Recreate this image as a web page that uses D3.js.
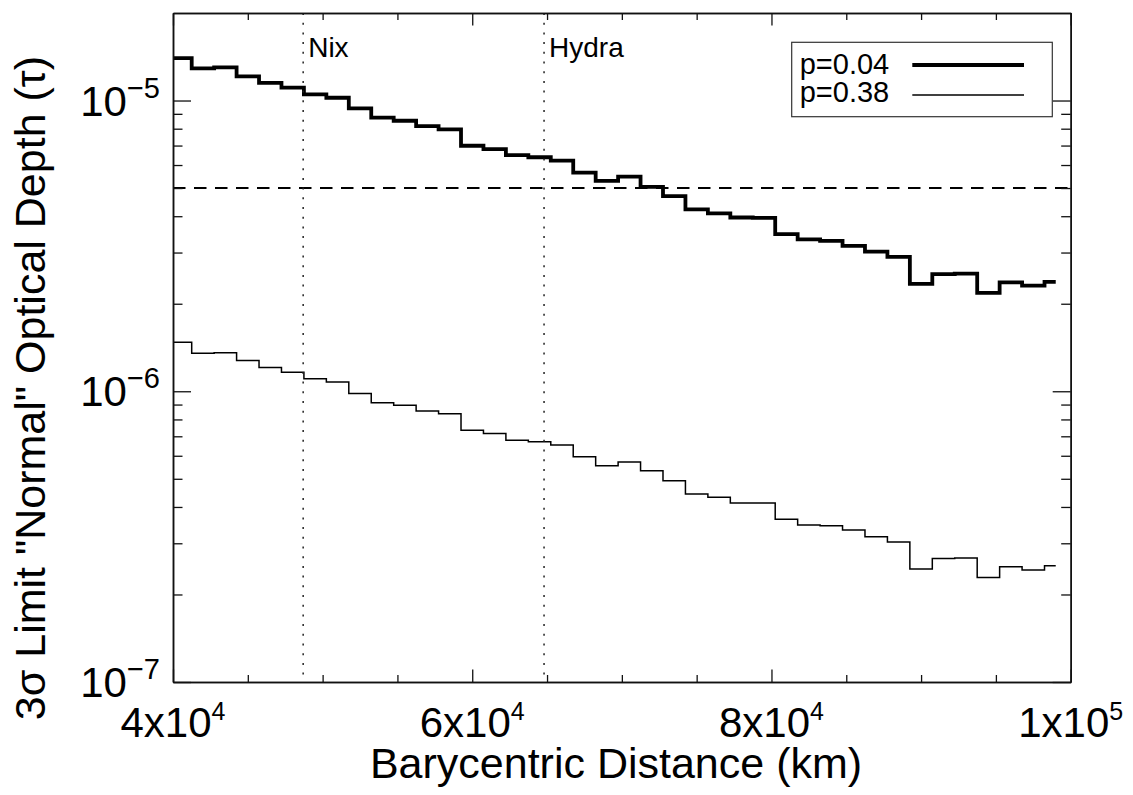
<!DOCTYPE html>
<html>
<head>
<meta charset="utf-8">
<script src="https://cdn.jsdelivr.net/npm/d3@7"></script>
<style>
  body { margin: 0; background: #fff; }
  svg { display: block; font-family: "Liberation Sans", Arial, Helvetica, sans-serif; }
</style>
</head>
<body>
<svg id="chart" width="1133" height="795"></svg>
<script>
// bin centres (km) and 3-sigma optical depth limits
const distance = [40500, 42000, 43500, 45000, 46500, 48000, 49500, 51000, 52500, 54000,
    55500, 57000, 58500, 60000, 61500, 63000, 64500, 66000, 67500, 69000,
    70500, 72000, 73500, 75000, 76500, 78000, 79500, 81000, 82500, 84000,
    85500, 87000, 88500, 90000, 91500, 93000, 94500, 96000, 97500, 99000];

const tauP004 = [1.40e-5, 1.29e-5, 1.30e-5, 1.21e-5, 1.15e-5, 1.107e-5, 1.05e-5, 1.022e-5, 9.40e-6, 8.73e-6,
    8.52e-6, 8.17e-6, 7.96e-6, 6.99e-6, 6.81e-6, 6.49e-6, 6.38e-6, 6.21e-6, 5.65e-6, 5.29e-6,
    5.47e-6, 5.05e-6, 4.69e-6, 4.22e-6, 4.09e-6, 3.96e-6, 3.95e-6, 3.47e-6, 3.33e-6, 3.29e-6,
    3.165e-6, 3.02e-6, 2.90e-6, 2.34e-6, 2.53e-6, 2.54e-6, 2.18e-6, 2.37e-6, 2.31e-6, 2.38e-6];

const tauP038 = [1.473e-6, 1.350e-6, 1.356e-6, 1.277e-6, 1.208e-6, 1.162e-6, 1.104e-6, 1.076e-6, 9.83e-7, 9.13e-7,
    8.96e-7, 8.55e-7, 8.37e-7, 7.35e-7, 7.16e-7, 6.79e-7, 6.70e-7, 6.53e-7, 5.95e-7, 5.54e-7,
    5.71e-7, 5.33e-7, 4.92e-7, 4.43e-7, 4.32e-7, 4.13e-7, 4.13e-7, 3.63e-7, 3.47e-7, 3.45e-7,
    3.33e-7, 3.16e-7, 3.03e-7, 2.445e-7, 2.66e-7, 2.67e-7, 2.29e-7, 2.49e-7, 2.43e-7, 2.51e-7];

const binWidth = 1500;
const threshold = 5e-6;
const moons = [{ name: 'Nix', a: 48700 }, { name: 'Hydra', a: 64800 }];

const xMajor = [40000, 60000, 80000, 100000];
const xMajorLabels = [['4x10', '4'], ['6x10', '4'], ['8x10', '4'], ['1x10', '5']];
const xMinor = [45000, 50000, 55000, 65000, 70000, 75000, 85000, 90000, 95000];
const yMajor = [1e-7, 1e-6, 1e-5];
const yMajorLabels = ['\u22127', '\u22126', '\u22125'];
const yMinor = [2e-7, 3e-7, 4e-7, 5e-7, 6e-7, 7e-7, 8e-7, 9e-7,
    2e-6, 3e-6, 4e-6, 5e-6, 6e-6, 7e-6, 8e-6, 9e-6];

const legendItems = [{ label: 'p=0.04', width: 4 }, { label: 'p=0.38', width: 1.5 }];

const margin = { top: 13, left: 173 },
    width = 897.7,
    height = 669;

const svg = d3.select('#chart');
const g = svg.append('g').attr('transform', `translate(${margin.left},${margin.top})`);

const x = d3.scaleLinear().domain([40000, 100000]).range([0, width]);
const y = d3.scaleLog().domain([1e-7, 2e-5]).range([height, 0]);

svg.append('defs').append('clipPath').attr('id', 'plot-clip')
    .append('rect').attr('width', width).attr('height', height);

// step curves (histogram mode)
const step = d3.line().x((d) => x(d[0])).y((d) => y(d[1])).curve(d3.curveStep);
function series(vals) {
    const pts = distance.map((d, i) => [d, vals[i]]);
    pts.unshift([distance[0] - binWidth / 2, vals[0]]);
    return pts;
}
const plotArea = g.append('g').attr('clip-path', 'url(#plot-clip)');
plotArea.append('path').datum(series(tauP004)).attr('d', step)
    .attr('fill', 'none').attr('stroke', '#000').attr('stroke-width', 3.8).attr('stroke-linejoin', 'miter');
plotArea.append('path').datum(series(tauP038)).attr('d', step)
    .attr('fill', 'none').attr('stroke', '#000').attr('stroke-width', 1.5);

// threshold line
g.append('line')
    .attr('x1', 0).attr('x2', width)
    .attr('y1', y(threshold)).attr('y2', y(threshold))
    .attr('stroke', '#000').attr('stroke-width', 2).attr('stroke-dasharray', '12.5,8.5');

// satellite orbits
moons.forEach((m) => {
    g.append('line')
        .attr('x1', x(m.a)).attr('x2', x(m.a))
        .attr('y1', 0).attr('y2', height)
        .attr('stroke', '#222').attr('stroke-width', 1.5).attr('stroke-dasharray', '2,7.7');
    g.append('text')
        .attr('x', x(m.a) + 5).attr('y', 44)
        .attr('font-size', 28).text(m.name);
});

// axes: all ticks point inward
function styleAxis(sel) {
    sel.selectAll('path.domain').attr('stroke', '#111').attr('stroke-width', 1.5);
    sel.selectAll('.tick line').attr('stroke', '#111').attr('stroke-width', 1.3);
    sel.selectAll('.tick text').remove();
}
const axes = [
    [d3.axisBottom(x), `translate(0,${height})`, xMajor, xMinor, 12.5, 7],
    [d3.axisTop(x), 'translate(0,0)', xMajor, xMinor, 12.5, 7],
    [d3.axisLeft(y), 'translate(0,0)', yMajor, yMinor, 18, 9.5],
    [d3.axisRight(y), `translate(${width},0)`, yMajor, yMinor, 18, 9.5],
];
axes.forEach(([axis, tr, major, minor, bigLen, smallLen]) => {
    g.append('g').attr('transform', tr)
        .call(axis.tickValues(minor).tickSizeInner(-smallLen).tickSizeOuter(0).tickFormat(''))
        .call(styleAxis);
    g.append('g').attr('transform', tr)
        .call(axis.tickValues(major).tickSizeInner(-bigLen).tickSizeOuter(0).tickFormat(''))
        .call(styleAxis);
});

// tick labels
xMajor.forEach((v, i) => {
    const t = g.append('text')
        .attr('x', x(v)).attr('y', height + 55)
        .attr('text-anchor', 'middle').attr('font-size', 42);
    t.append('tspan').text(xMajorLabels[i][0]);
    t.append('tspan').attr('font-size', 25).attr('dy', -17).text(xMajorLabels[i][1]);
});
yMajor.forEach((v, i) => {
    const t = g.append('text')
        .attr('x', -13).attr('y', y(v) + 15)
        .attr('text-anchor', 'end').attr('font-size', 42);
    t.append('tspan').text('10');
    t.append('tspan').attr('font-size', 29).attr('dy', -18).text(yMajorLabels[i]);
});

// axis titles
svg.append('text')
    .attr('x', 616).attr('y', 778)
    .attr('text-anchor', 'middle').attr('font-size', 43)
    .text('Barycentric Distance (km)');
svg.append('text')
    .attr('transform', 'translate(45,388) rotate(-90)')
    .attr('text-anchor', 'middle').attr('font-size', 43)
    .text('3\u03c3 Limit "Normal" Optical Depth (\u03c4)');

// legend
const legend = svg.append('g').attr('transform', 'translate(791.7,42.3)');
legend.append('rect')
    .attr('width', 260.6).attr('height', 74.4)
    .attr('fill', '#fff').attr('stroke', '#333').attr('stroke-width', 1.2);
legendItems.forEach((d, i) => {
    legend.append('text')
        .attr('x', 8).attr('y', 32 + i * 28)
        .attr('font-size', 29).text(d.label);
    legend.append('line')
        .attr('x1', 120.6).attr('x2', 232.3)
        .attr('y1', 22.7 + i * 30).attr('y2', 22.7 + i * 30)
        .attr('stroke', '#000').attr('stroke-width', d.width);
});
</script>
</body>
</html>
